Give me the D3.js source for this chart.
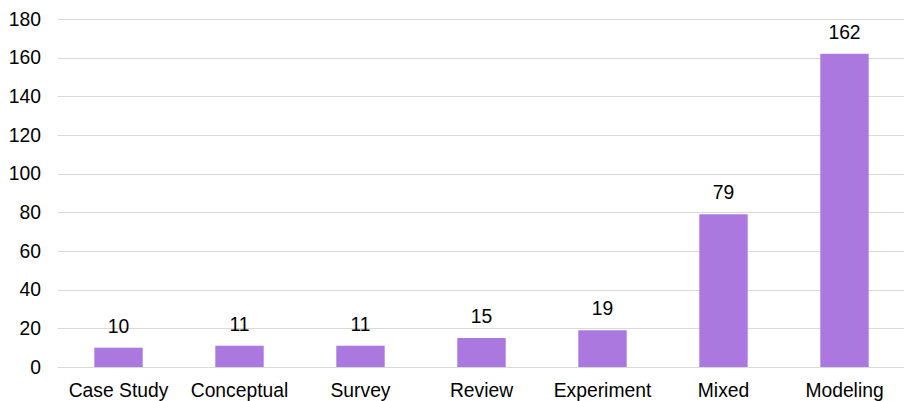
<!DOCTYPE html>
<html>
<head>
<meta charset="utf-8">
<script src="https://cdn.jsdelivr.net/npm/d3@7"></script>
<style>
  html, body { margin: 0; padding: 0; background: #fff; }
  svg { display: block; font-family: "Liberation Sans", Arial, sans-serif; }
</style>
</head>
<body>
<svg id="chart" width="904" height="401"></svg>
<script>
// Study counts by research method
const categories = ["Case Study", "Conceptual", "Survey", "Review", "Experiment", "Mixed", "Modeling"];
const counts = [10, 11, 11, 15, 19, 79, 162];
const yTicks = [0, 20, 40, 60, 80, 100, 120, 140, 160, 180];

const svg = d3.select("#chart");
const plotLeft = 58, plotRight = 905, plotTop = 19, plotBottom = 367;
const fontSize = 19.3;

const x = d3.scaleBand()
  .domain(categories)
  .range([plotLeft, plotRight])
  .paddingInner(0.6)
  .paddingOuter(0.3);

const y = d3.scaleLinear()
  .domain([0, 180])
  .range([plotBottom, plotTop]);

// Horizontal gridlines
svg.append("g")
  .selectAll("line")
  .data(yTicks)
  .join("line")
  .attr("x1", plotLeft)
  .attr("x2", 904)
  .attr("y1", d => Math.round(y(d)) + 0.5)
  .attr("y2", d => Math.round(y(d)) + 0.5)
  .attr("stroke", "#d9d9d9")
  .attr("stroke-width", 1);

// Y axis labels
svg.append("g")
  .selectAll("text")
  .data(yTicks)
  .join("text")
  .attr("x", 41)
  .attr("y", d => y(d) + 6.8)
  .attr("text-anchor", "end")
  .attr("font-size", fontSize)
  .attr("fill", "#000")
  .text(d => d);

// Bars
svg.append("g")
  .selectAll("rect")
  .data(counts)
  .join("rect")
  .attr("x", (d, i) => x(categories[i]))
  .attr("width", x.bandwidth())
  .attr("y", d => y(d))
  .attr("height", d => y(0) - y(d))
  .attr("fill", "#ab78df");

// Value labels
svg.append("g")
  .selectAll("text")
  .data(counts)
  .join("text")
  .attr("x", (d, i) => x(categories[i]) + x.bandwidth() / 2)
  .attr("y", d => y(d) - 15)
  .attr("text-anchor", "middle")
  .attr("font-size", fontSize)
  .attr("fill", "#000")
  .text(d => d);

// Category labels
svg.append("g")
  .selectAll("text")
  .data(categories)
  .join("text")
  .attr("x", d => x(d) + x.bandwidth() / 2)
  .attr("y", 396.5)
  .attr("text-anchor", "middle")
  .attr("font-size", fontSize)
  .attr("fill", "#000")
  .text(d => d);
</script>
</body>
</html>
